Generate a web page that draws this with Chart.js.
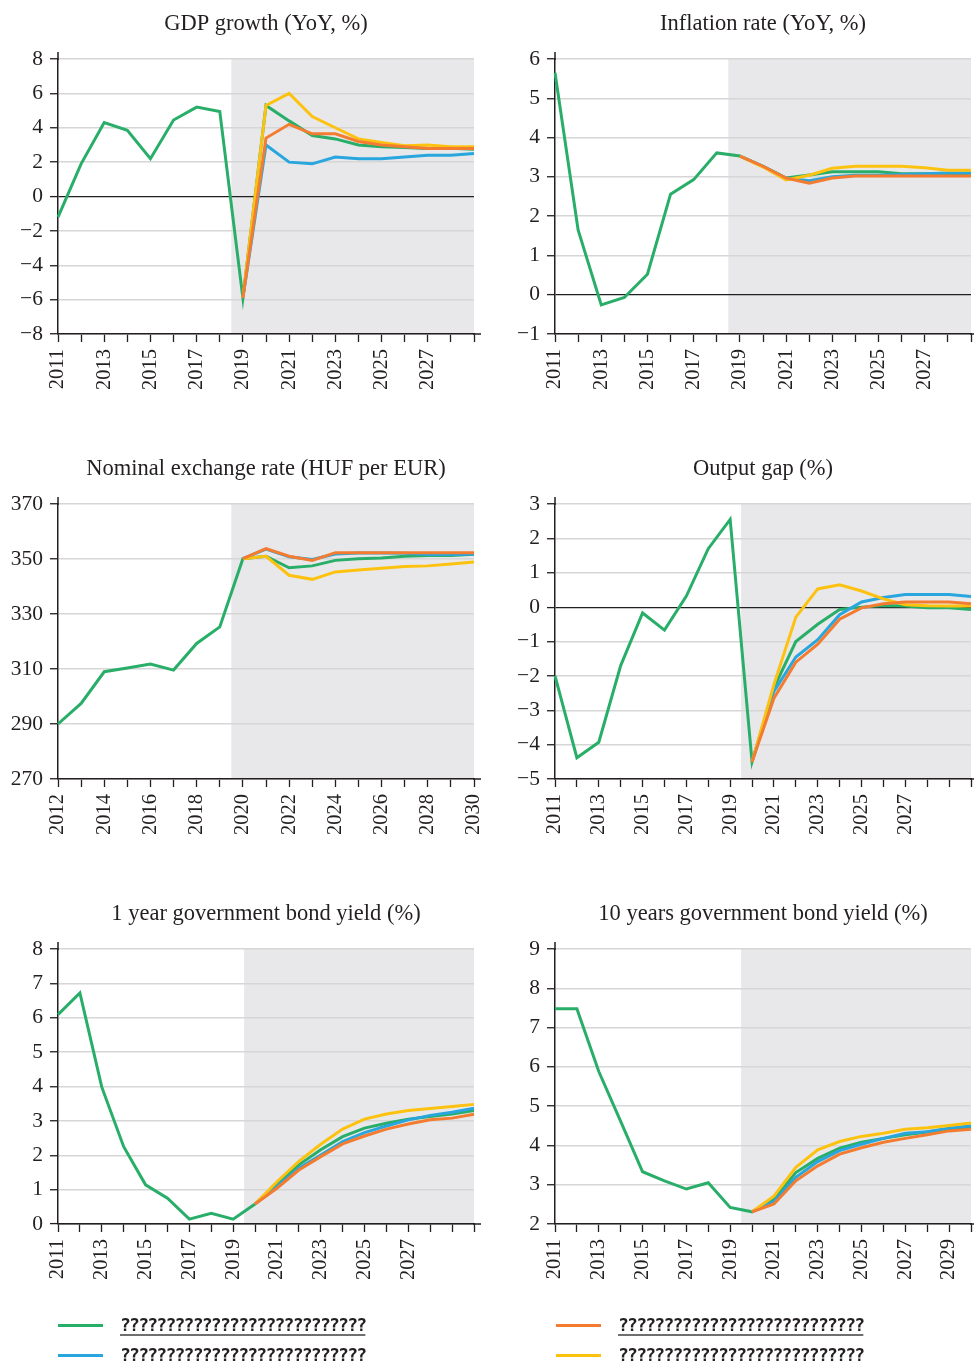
<!DOCTYPE html>
<html>
<head>
<meta charset="utf-8">
<script src="https://cdn.jsdelivr.net/npm/chart.js@4.4.1/dist/chart.umd.min.js"></script>
<style>
  html, body { margin: 0; padding: 0; background: #fff; width: 974px; height: 1364px; overflow: hidden; position: relative; }
  canvas { position: absolute; }
  .swatch { position: absolute; width: 45px; height: 3px; }
  .legend-text {
    position: absolute; white-space: nowrap; color: #231f20;
    font: bold 18px 'DejaVu Sans Mono', monospace; letter-spacing: -1.75px; line-height: 20px;
    text-decoration: underline; text-decoration-color: #6f6f6f;
    text-decoration-thickness: 2px; text-underline-offset: 3px;
  }
</style>
</head>
<body>
<script>
// ---- Scenario names and colours ----
const seriesNames = [
  '???????????????????????????',
  '???????????????????????????',
  '???????????????????????????',
  '???????????????????????????'
];
const seriesColors = ['#28ae68', '#29a6dd', '#f47c31', '#fdc20f'];

// ---- Years ----
const years2011to2029 = ['2011','2012','2013','2014','2015','2016','2017','2018','2019','2020','2021','2022','2023','2024','2025','2026','2027','2028','2029'];
const years2011to2030 = ['2011','2012','2013','2014','2015','2016','2017','2018','2019','2020','2021','2022','2023','2024','2025','2026','2027','2028','2029','2030'];
const years2012to2030 = ['2012','2013','2014','2015','2016','2017','2018','2019','2020','2021','2022','2023','2024','2025','2026','2027','2028','2029','2030'];

// ---- Tick labels shown on the year axes ----
const oddTicksTo2027 = ['2011','2013','2015','2017','2019','2021','2023','2025','2027'];
const oddTicksTo2029 = ['2011','2013','2015','2017','2019','2021','2023','2025','2027','2029'];
const evenTicksTo2030 = ['2012','2014','2016','2018','2020','2022','2024','2026','2028','2030'];

// ---- GDP growth (YoY, %) ----
const gdpS1 = [-1.2, 1.9, 4.3, 3.85, 2.2, 4.45, 5.2, 4.95, -5.9, 5.3, 4.4, 3.55, 3.35, 3.0, 2.9, 2.85, 2.8, 2.8, 2.75];
const gdpS2 = [null, null, null, null, null, null, null, null, -5.9, 3.0, 2.0, 1.9, 2.3, 2.2, 2.2, 2.3, 2.4, 2.4, 2.5];
const gdpS3 = [null, null, null, null, null, null, null, null, -5.9, 3.4, 4.2, 3.65, 3.65, 3.2, 3.0, 2.9, 2.8, 2.8, 2.8];
const gdpS4 = [null, null, null, null, null, null, null, null, -5.9, 5.3, 6.0, 4.65, 4.0, 3.35, 3.15, 2.95, 3.0, 2.9, 2.9];

// ---- Inflation rate (YoY, %) ----
const infS1 = [5.65, 1.65, -0.26, -0.07, 0.52, 2.56, 2.93, 3.61, 3.53, 3.27, 2.97, 3.05, 3.13, 3.13, 3.13, 3.08, 3.08, 3.08, 3.07];
const infS2 = [null, null, null, null, null, null, null, null, 3.53, 3.27, 2.97, 2.9, 3.0, 3.04, 3.04, 3.06, 3.08, 3.1, 3.1];
const infS3 = [null, null, null, null, null, null, null, null, 3.53, 3.27, 2.97, 2.84, 2.97, 3.02, 3.02, 3.02, 3.02, 3.02, 3.02];
const infS4 = [null, null, null, null, null, null, null, null, 3.53, 3.25, 2.92, 3.04, 3.22, 3.27, 3.27, 3.27, 3.23, 3.17, 3.17];

// ---- Nominal exchange rate (HUF per EUR) ----
const fxS1 = [290, 297.5, 309, 310.4, 311.8, 309.6, 319.3, 325.3, 350.1, 351, 346.8, 347.5, 349.5, 350.1, 350.4, 351, 351.3, 351.3, 351.7];
const fxS2 = [null, null, null, null, null, null, null, null, 350.1, 353.6, 350.8, 349.8, 351.8, 352.2, 352.2, 352.1, 351.6, 351.6, 351.7];
const fxS3 = [null, null, null, null, null, null, null, null, 350.1, 353.8, 351, 349.5, 352.3, 352.3, 352.3, 352.3, 352.3, 352.3, 352.3];
const fxS4 = [null, null, null, null, null, null, null, null, 350.1, 351, 344.1, 342.6, 345.3, 346, 346.6, 347.3, 347.5, 348.2, 348.9];

// ---- Output gap (%) ----
const gapS1 = [-2.0, -4.38, -3.93, -1.7, -0.17, -0.67, 0.32, 1.7, 2.55, -4.5, -2.35, -1.0, -0.5, -0.07, 0.0, 0.05, 0.03, -0.02, -0.02, -0.07];
const gapS2 = [null, null, null, null, null, null, null, null, null, -4.5, -2.45, -1.45, -0.95, -0.22, 0.15, 0.28, 0.37, 0.37, 0.37, 0.31];
const gapS3 = [null, null, null, null, null, null, null, null, null, -4.5, -2.65, -1.6, -1.08, -0.35, -0.02, 0.1, 0.15, 0.15, 0.15, 0.1];
const gapS4 = [null, null, null, null, null, null, null, null, null, -4.5, -2.25, -0.29, 0.53, 0.65, 0.47, 0.24, 0.07, 0.04, 0.03, 0.03];

// ---- 1 year government bond yield (%) ----
const y1S1 = [6.09, 6.72, 3.98, 2.25, 1.14, 0.75, 0.14, 0.31, 0.14, 0.58, 1.17, 1.72, 2.16, 2.54, 2.79, 2.93, 3.05, 3.13, 3.2, 3.3];
const y1S2 = [null, null, null, null, null, null, null, null, null, 0.58, 1.09, 1.62, 2.01, 2.4, 2.66, 2.85, 3.03, 3.16, 3.25, 3.37];
const y1S3 = [null, null, null, null, null, null, null, null, null, 0.58, 1.04, 1.57, 1.96, 2.33, 2.56, 2.76, 2.91, 3.03, 3.08, 3.19];
const y1S4 = [null, null, null, null, null, null, null, null, null, 0.58, 1.23, 1.82, 2.32, 2.76, 3.05, 3.2, 3.3, 3.36, 3.42, 3.48];

// ---- 10 years government bond yield (%) ----
const y10S1 = [7.48, 7.48, 5.88, 4.61, 3.33, 3.1, 2.89, 3.05, 2.42, 2.31, 2.63, 3.31, 3.67, 3.93, 4.08, 4.18, 4.27, 4.34, 4.42, 4.46];
const y10S2 = [null, null, null, null, null, null, null, null, null, 2.31, 2.57, 3.19, 3.59, 3.87, 4.03, 4.18, 4.31, 4.35, 4.44, 4.5];
const y10S3 = [null, null, null, null, null, null, null, null, null, 2.31, 2.51, 3.1, 3.48, 3.78, 3.94, 4.08, 4.18, 4.27, 4.37, 4.41];
const y10S4 = [null, null, null, null, null, null, null, null, null, 2.31, 2.71, 3.44, 3.89, 4.1, 4.23, 4.31, 4.41, 4.45, 4.51, 4.57];

// ---- Styling ----
const ink = '#231f20';
const gridColor = '#d6d6d6';
const shadeColor = '#e8e8eb';
const serif = "'Liberation Serif', 'Times New Roman', serif";
const drawOrder = [3, 2, 0, 1]; // orange on top, then yellow, blue, green
const panelW = 487, panelH = 445;

// Grey band behind the forecast years (starts half a year before the first scenario point)
const forecastShade = {
  id: 'forecastShade',
  beforeDraw(chart, args, opts) {
    const { ctx, chartArea, scales } = chart;
    const x0 = scales.x.getPixelForValue(opts.from - 0.5);
    ctx.save();
    ctx.fillStyle = shadeColor;
    ctx.fillRect(x0, chartArea.top, chartArea.right - x0, chartArea.bottom - chartArea.top);
    ctx.restore();
  }
};

// Axis lines run a little past the plot corners
const axisOverhang = {
  id: 'axisOverhang',
  afterDraw(chart) {
    const { ctx, chartArea } = chart;
    ctx.save();
    ctx.strokeStyle = ink;
    ctx.lineWidth = 1.5;
    ctx.beginPath();
    ctx.moveTo(chartArea.left, chartArea.top - 7);
    ctx.lineTo(chartArea.left, chartArea.top + 1);
    ctx.moveTo(chartArea.right - 1, chartArea.bottom);
    ctx.lineTo(chartArea.right + 7, chartArea.bottom);
    ctx.stroke();
    ctx.restore();
  }
};

const panels = [
  { title: 'GDP growth (YoY, %)', labels: years2011to2029, tickLabels: oddTicksTo2027,
    series: [gdpS1, gdpS2, gdpS3, gdpS4], min: -8, max: 8, step: 2, col: 0, row: 0 },
  { title: 'Inflation rate (YoY, %)', labels: years2011to2029, tickLabels: oddTicksTo2027,
    series: [infS1, infS2, infS3, infS4], min: -1, max: 6, step: 1, col: 1, row: 0 },
  { title: 'Nominal exchange rate (HUF per EUR)', labels: years2012to2030, tickLabels: evenTicksTo2030,
    series: [fxS1, fxS2, fxS3, fxS4], min: 270, max: 370, step: 20, col: 0, row: 1 },
  { title: 'Output gap (%)', labels: years2011to2030, tickLabels: oddTicksTo2027,
    series: [gapS1, gapS2, gapS3, gapS4], min: -5, max: 3, step: 1, col: 1, row: 1 },
  { title: '1 year government bond yield (%)', labels: years2011to2030, tickLabels: oddTicksTo2027,
    series: [y1S1, y1S2, y1S3, y1S4], min: 0, max: 8, step: 1, col: 0, row: 2 },
  { title: '10 years government bond yield (%)', labels: years2011to2030, tickLabels: oddTicksTo2029,
    series: [y10S1, y10S2, y10S3, y10S4], min: 2, max: 9, step: 1, col: 1, row: 2 }
];

function firstScenarioIndex(series) {
  return series[1].findIndex(v => v !== null);
}

function buildPanel(p) {
  const canvas = document.createElement('canvas');
  canvas.width = panelW;
  canvas.height = panelH;
  canvas.style.left = (p.col * panelW) + 'px';
  canvas.style.top = (p.row * panelH) + 'px';
  document.body.appendChild(canvas);

  const axisWidth = p.col === 0 ? 58 : 68;
  const rightPad = p.col === 0 ? 13 : 3;

  const datasets = p.series.map((data, i) => ({
    label: seriesNames[i],
    data: data,
    borderColor: seriesColors[i],
    backgroundColor: seriesColors[i],
    borderWidth: 3,
    pointRadius: 0,
    tension: 0,
    fill: false,
    order: drawOrder[i]
  }));

  new Chart(canvas, {
    type: 'line',
    data: { labels: p.labels, datasets: datasets },
    options: {
      responsive: false,
      animation: false,
      devicePixelRatio: 1,
      layout: { padding: { left: 0, right: rightPad, top: 0, bottom: 0 } },
      plugins: {
        legend: { display: false },
        tooltip: { enabled: false },
        title: {
          display: true, text: p.title, fullSize: false, color: ink,
          font: { family: serif, size: 22.5, weight: 'normal' },
          padding: { top: 11, bottom: 21 }
        },
        forecastShade: { from: firstScenarioIndex(p.series) }
      },
      scales: {
        x: {
          type: 'category',
          offset: false,
          grid: { display: true, drawOnChartArea: false, drawTicks: true, tickLength: 8, tickColor: ink, tickWidth: 1.3 },
          border: { display: true, color: ink, width: 1.5 },
          ticks: {
            autoSkip: false, minRotation: 90, maxRotation: 90, padding: 7, color: ink,
            font: { family: serif, size: 20.5 },
            callback(value) {
              const label = this.getLabelForValue(value);
              return p.tickLabels.includes(label) ? label : '';
            }
          },
          afterFit(scale) { scale.height = panelH - 334; scale.paddingLeft = 0; scale.paddingRight = 0; }
        },
        y: {
          min: p.min, max: p.max,
          grid: {
            color: c => (c.tick && c.tick.value === 0) ? ink : gridColor,
            lineWidth: c => (c.tick && c.tick.value === 0) ? 1.2 : 1.5,
            drawTicks: true, tickLength: 8, tickColor: ink, tickWidth: 1.3
          },
          border: { display: true, color: ink, width: 1.5 },
          ticks: {
            stepSize: p.step, padding: 7, color: ink,
            font: { family: serif, size: 21.5 },
            callback: v => v < 0 ? '\u2212' + Math.abs(v) : String(v)
          },
          afterFit(scale) { scale.width = axisWidth; scale.paddingTop = 0; scale.paddingBottom = 0; }
        }
      }
    },
    plugins: [forecastShade, axisOverhang]
  });
}

panels.forEach(buildPanel);

// ---- Shared legend below the panels ----
const legendSlots = [
  { series: 0, col: 0, row: 0 },
  { series: 1, col: 0, row: 1 },
  { series: 2, col: 1, row: 0 },
  { series: 3, col: 1, row: 1 }
];
legendSlots.forEach(s => {
  const baseX = s.col === 0 ? 58 : 556;
  const topY = 1315 + s.row * 30;
  const sw = document.createElement('div');
  sw.className = 'swatch';
  sw.style.background = seriesColors[s.series];
  sw.style.left = baseX + 'px';
  sw.style.top = (topY + 9) + 'px';
  document.body.appendChild(sw);
  const tx = document.createElement('div');
  tx.className = 'legend-text';
  tx.textContent = seriesNames[s.series];
  tx.style.left = (baseX + 62) + 'px';
  tx.style.top = topY + 'px';
  document.body.appendChild(tx);
});
</script>
</body>
</html>
